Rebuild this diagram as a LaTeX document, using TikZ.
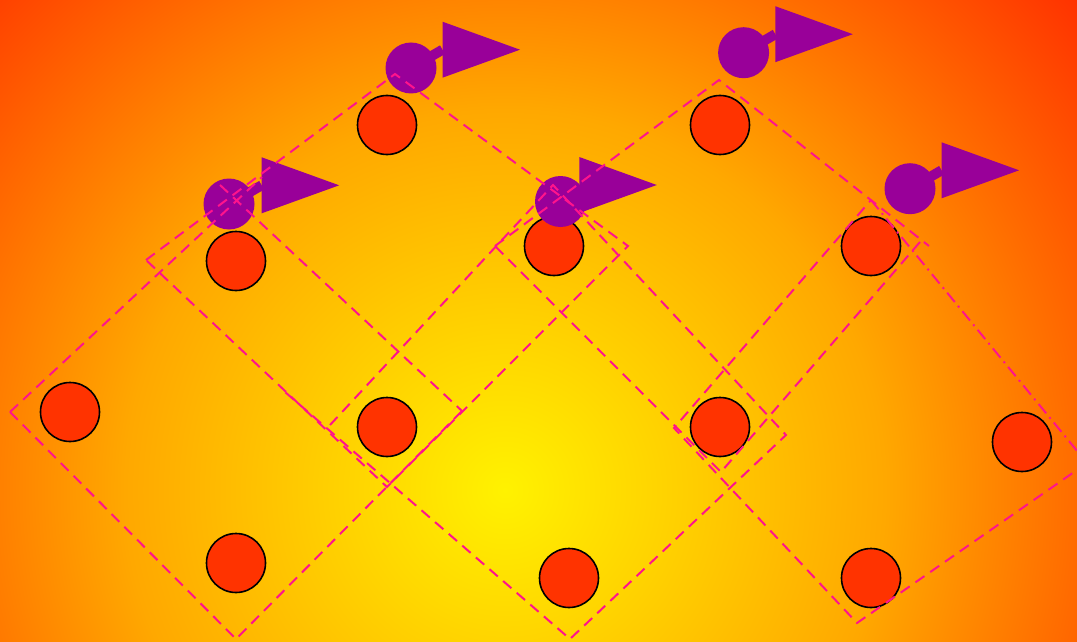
\documentclass[tikz,border=0pt]{standalone}
\definecolor{bgin}{RGB}{255,242,0}
\definecolor{bgmid}{RGB}{255,168,0}
\definecolor{bgout}{RGB}{255,48,0}
\definecolor{dotred}{RGB}{255,51,0}
\definecolor{pinpurple}{RGB}{153,0,153}
\definecolor{dashpink}{RGB}{255,20,140}
\pgfdeclareradialshading{bgshade}{\pgfpoint{0bp}{0bp}}{color(0bp)=(bgin); color(12.5bp)=(bgmid); color(25bp)=(bgout); color(50bp)=(bgout)}
\tikzset{
  reddot/.style={circle, draw=black, line width=1.6pt, fill=dotred, minimum size=59pt, inner sep=0pt},
  pinball/.style={circle, fill=pinpurple, minimum size=51pt, inner sep=0pt},
  pinstem/.style={draw=pinpurple, line width=10pt},
  pinhead/.style={fill=pinpurple},
  fitline/.style={draw=dashpink, line width=2pt, dash pattern=on 11pt off 7pt},
  fitdashdot/.style={draw=dashpink, line width=2pt, dash pattern=on 12pt off 5pt on 2pt off 5pt},
}
\begin{document}
\begin{tikzpicture}[x=1pt,y=-1pt]
\useasboundingbox (0,0) rectangle (1077,642);
\begin{scope}
  \clip (0,0) rectangle (1077,642);
  \shade[shading=bgshade] (505,490) circle (760pt);
\end{scope}

% red dots
\node[reddot] (r1)  at (387,125) {};
\node[reddot] (r2)  at (720,125) {};
\node[reddot] (r3)  at (236,261) {};
\node[reddot] (r4)  at (554,246) {};
\node[reddot] (r5)  at (871,246) {};
\node[reddot] (r6)  at (70,412) {};
\node[reddot] (r7)  at (387,427) {};
\node[reddot] (r8)  at (720,427) {};
\node[reddot] (r9)  at (1022,442) {};
\node[reddot] (r10) at (236,563) {};
\node[reddot] (r11) at (569,578) {};
\node[reddot] (r12) at (871,578) {};

% pins
\node[pinball] (b1) at (411,68) {};
\coordinate (h1) at (442.5,49.7);
\draw[pinstem] (b1.center) -- (h1);
\fill[pinhead] (h1) ++(0,-28) -- ++(77.5,28) -- ++(-77.5,28) -- cycle;

\node[pinball] (b2) at (229,204) {};
\coordinate (h2) at (261.7,185.3);
\draw[pinstem] (b2.center) -- (h2);
\fill[pinhead] (h2) ++(0,-28) -- ++(77.5,28) -- ++(-77.5,28) -- cycle;

\node[pinball] (b3) at (743.6,52.7) {};
\coordinate (h3) at (775.3,34.2);
\draw[pinstem] (b3.center) -- (h3);
\fill[pinhead] (h3) ++(0,-28) -- ++(77.5,28) -- ++(-77.5,28) -- cycle;

\node[pinball] (b4) at (910,188.7) {};
\coordinate (h4) at (941.6,170.3);
\draw[pinstem] (b4.center) -- (h4);
\fill[pinhead] (h4) ++(0,-28) -- ++(77.5,28) -- ++(-77.5,28) -- cycle;

\node[pinball] (b5) at (560.5,201.5) {};
\coordinate (h5) at (579.3,185);
\draw[pinstem] (b5.center) -- (h5);
\fill[pinhead] (h5) ++(0,-28) -- ++(77.5,28) -- ++(-77.5,28) -- cycle;

% dashed outlines
\begin{scope}
  \clip (0,0) rectangle (1077,642);
  % D0
  \draw[fitline] (10,412) -- (262,177);
  \draw[fitline] (220,185) -- (462,411);
  \draw[fitline] (10,412) -- (236,639) -- (462,411);
  % D1
  \draw[fitline] (146,260) -- (395,74) -- (628,246) -- (387,487) -- cycle;
  % D2
  \draw[fitline] (330,425) -- (553,185) -- (786,435) -- (570,639) -- (285,392);
  % D3
  \draw[fitline] (495,246) -- (719,80) -- (929,246);
  \draw[fitline] (920,242) -- (721,472) -- (495,246);
  % D4
  \draw[fitline] (1087,463) -- (857,623) -- (674,428) -- (871,200);
  \draw[fitdashdot] (871,200) -- (1087,463);
\end{scope}
\end{tikzpicture}
\end{document}
